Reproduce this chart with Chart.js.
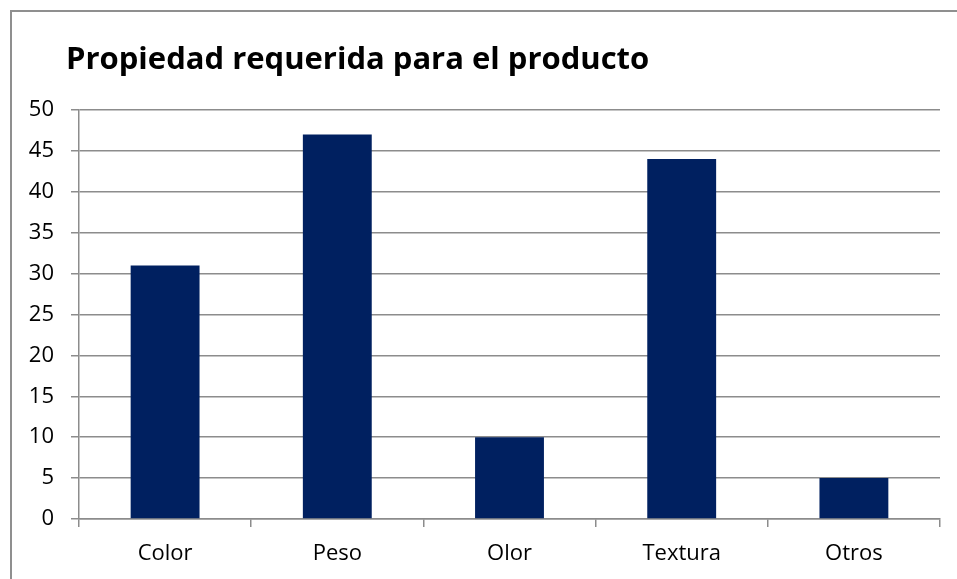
<!DOCTYPE html>
<html>
<head>
<meta charset="utf-8">
<script src="https://cdn.jsdelivr.net/npm/chart.js@4/dist/chart.umd.min.js"></script>
<style>
  html, body { margin: 0; padding: 0; background: #fff; overflow: hidden; }
  #marco { position: absolute; left: 0; top: 0; width: 957px; height: 579px; }
  #borde { position: absolute; left: 10px; top: 10px; width: 1200px; height: 800px;
           border: 2px solid #8f8f8f; box-sizing: border-box; }
</style>
</head>
<body>
<div id="marco">
  <div id="borde"></div>
  <canvas id="grafPropiedad" width="957" height="579"></canvas>
</div>
<script>
/* datos */
const titulo = "Propiedad requerida para el producto";
const propiedades = ["Color", "Peso", "Olor", "Textura", "Otros"];
const cantidades = [31, 47, 10, 44, 5];
const ejeY = { min: 0, max: 50, paso: 5 };

const fuente = "'Open Sans', 'Liberation Sans', sans-serif";

/* titulo dibujado arriba a la izquierda */
const pluginTitulo = {
  id: "tituloIzq",
  afterDraw(chart){
    const ctx = chart.ctx;
    ctx.save();
    ctx.font = "bold 31px " + fuente;
    ctx.fillStyle = "#000";
    ctx.textBaseline = "alphabetic";
    ctx.fillText(titulo, 66, 69);
    ctx.restore();
  }
};

new Chart(document.getElementById("grafPropiedad"), {
  type: "bar",
  data: {
    labels: propiedades,
    datasets: [{
      data: cantidades,
      backgroundColor: "#002060",
      borderWidth: 0,
      barPercentage: 1,
      categoryPercentage: 0.4
    }]
  },
  options: {
    responsive: false,
    animation: false,
    layout: { padding: { left: 0, top: 110, right: 17, bottom: 0 } },
    plugins: { legend: { display: false }, tooltip: { enabled: false }, title: { display: false } },
    scales: {
      y: {
        min: ejeY.min,
        max: ejeY.max,
        afterFit(scale){ scale.width = 79; },
        ticks: { stepSize: ejeY.paso, color: "#000", padding: 17, font: { family: fuente, size: 22 } },
        grid: { color: "#8c8c8c", lineWidth: 1.5, tickLength: 8 },
        border: { color: "#8c8c8c", width: 1.5 }
      },
      x: {
        afterFit(scale){ scale.height = 60; },
        ticks: { color: "#000", padding: 14, font: { family: fuente, size: 22 } },
        grid: { offset: true, drawOnChartArea: false, color: "#8c8c8c", lineWidth: 1.5, tickLength: 8 },
        border: { color: "#8c8c8c", width: 1.5 }
      }
    }
  },
  plugins: [pluginTitulo]
});
</script>
</body>
</html>
